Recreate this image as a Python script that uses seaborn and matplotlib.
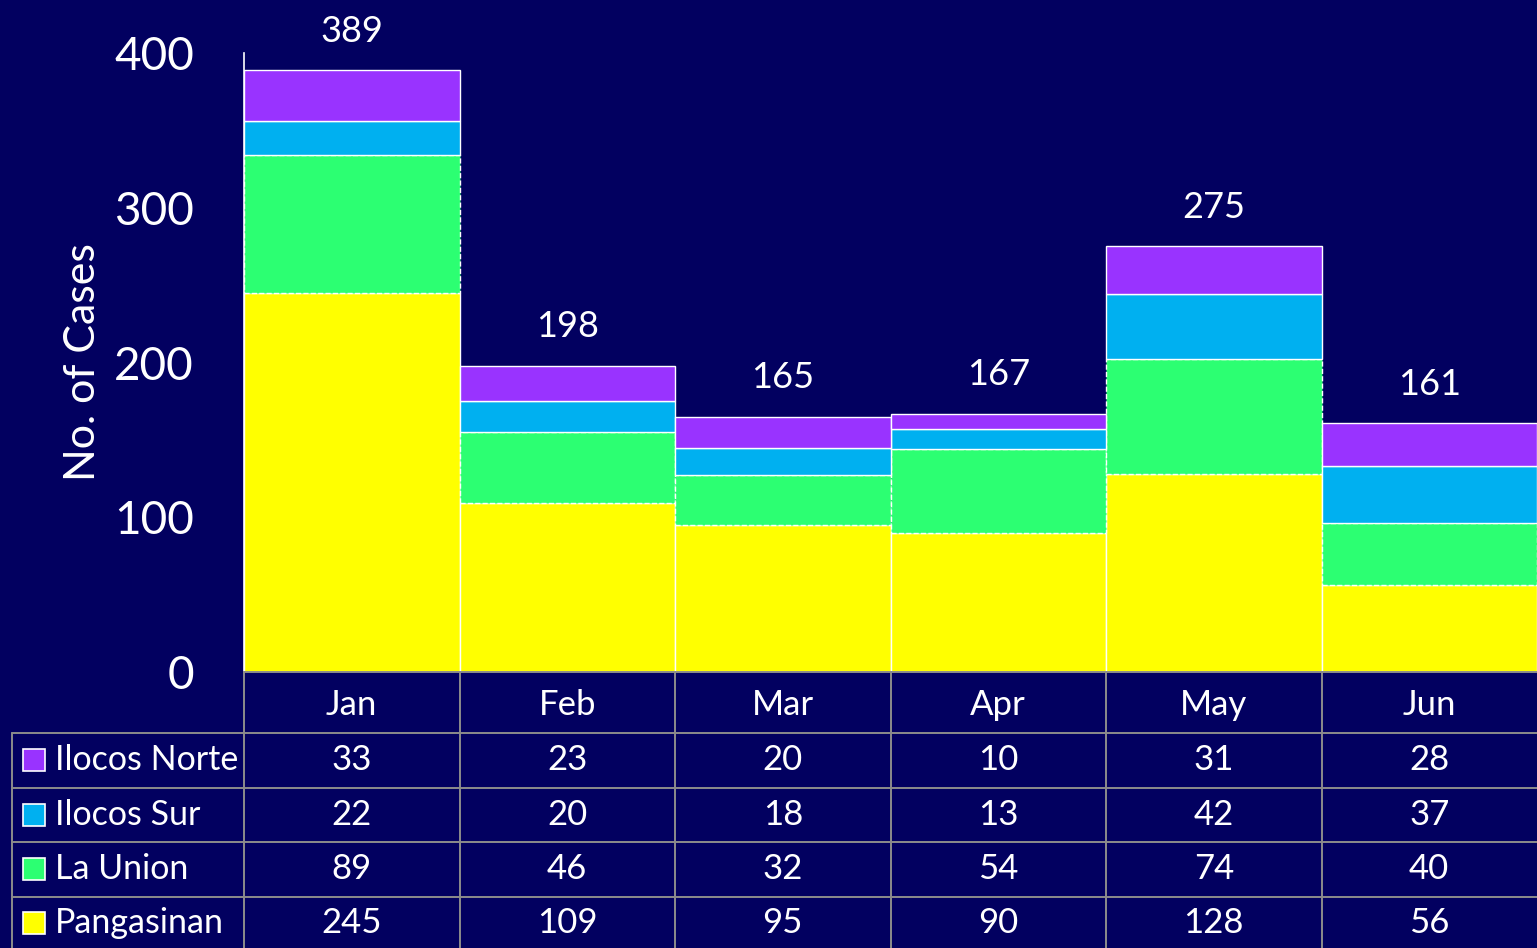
import matplotlib
matplotlib.use("Agg")
import matplotlib.pyplot as plt
import seaborn as sns
import numpy as np
from matplotlib.lines import Line2D
from matplotlib.patches import Rectangle
from matplotlib.transforms import blended_transform_factory

# --- DATA ---
months = ["Jan", "Feb", "Mar", "Apr", "May", "Jun"]
regions = ["Ilocos Norte", "Ilocos Sur", "La Union", "Pangasinan"]
ilocos_norte = [33, 23, 20, 10, 31, 28]
ilocos_sur = [22, 20, 18, 13, 42, 37]
la_union = [89, 46, 32, 54, 74, 40]
pangasinan = [245, 109, 95, 90, 128, 56]
region_colors = ["#9933FF", "#00B0F0", "#2CFF72", "#FFFF00"]

BG = "#020060"
GRID = "#8C8C8C"

sns.set_theme(style="dark", rc={"axes.facecolor": BG, "figure.facecolor": BG})
plt.rcParams["font.family"] = ["Lato", "DejaVu Sans"]

W, H = 1537, 948
fig = plt.figure(figsize=(W / 100, H / 100), dpi=100)
ax = fig.add_axes([244 / W, 1 - 672 / H, 1 - 244 / W, (672 - 53) / H])

# stacked bars, bottom layer first
series = [pangasinan, la_union, ilocos_sur, ilocos_norte]
colors = region_colors[::-1]
styles = ["-", "--", "-", "-"]
bottom = np.zeros(len(months))
for vals, c, ls in zip(series, colors, styles):
    sns.barplot(x=months, y=vals, bottom=bottom, color=c, saturation=1,
                width=1, edgecolor="white", linewidth=1.0, linestyle=ls,
                errorbar=None, ax=ax)
    bottom = bottom + np.array(vals)

totals = bottom
for i, t in enumerate(totals):
    ax.annotate(f"{int(t)}", (i, t), xytext=(0, 16), textcoords="offset points",
                ha="center", va="bottom", color="white", fontsize=26)

ax.set_ylim(0, 400)
ax.set_xlim(-0.5, len(months) - 0.5)
ax.set_yticks([0, 100, 200, 300, 400])
ax.tick_params(axis="y", length=0, pad=36, labelsize=33, labelcolor="white")
ax.tick_params(axis="x", length=0, pad=12, labelsize=25, labelcolor="white")
ax.set_ylabel("No. of Cases", color="white", fontsize=31)
ax.yaxis.set_label_coords(-0.11, 0.5)
ax.set_xlabel("")
ax.grid(False)
for side in ["top", "right"]:
    ax.spines[side].set_visible(False)
ax.spines["left"].set_color("white")
ax.spines["left"].set_linewidth(1.2)
ax.spines["bottom"].set_color(GRID)
ax.spines["bottom"].set_linewidth(1.4)

# --- data table under the axis ---
def fx(px):
    return px / W

def fy(py):
    return 1 - py / H

row_lines = [733, 788, 842, 897]
row_centers = [760, 815, 869, 923]
col_edges = [244 + 215.5 * k for k in range(len(months) + 1)]

for py in row_lines:
    fig.add_artist(Line2D([fx(12), 1], [fy(py), fy(py)], color=GRID, lw=1.4))
fig.add_artist(Line2D([fx(12), fx(12)], [fy(733), 0], color=GRID, lw=1.4))
for px in col_edges[:-1]:
    fig.add_artist(Line2D([fx(px), fx(px)], [fy(672), 0], color=GRID, lw=1.4))

trans = blended_transform_factory(ax.transData, fig.transFigure)
table_rows = [ilocos_norte, ilocos_sur, la_union, pangasinan]
for name, c, vals, py in zip(regions, region_colors, table_rows, row_centers):
    fig.add_artist(Rectangle((fx(23), fy(py + 11)), 22 / W, 22 / H,
                             facecolor=c, edgecolor="white", lw=1.2))
    fig.text(fx(55), fy(py), name, color="white", fontsize=24.5,
             ha="left", va="center")
    for i, v in enumerate(vals):
        ax.text(i, fy(py), str(v), transform=trans, color="white",
                fontsize=25, ha="center", va="center", clip_on=False)

fig.savefig("out.png", dpi=100, facecolor=BG)
